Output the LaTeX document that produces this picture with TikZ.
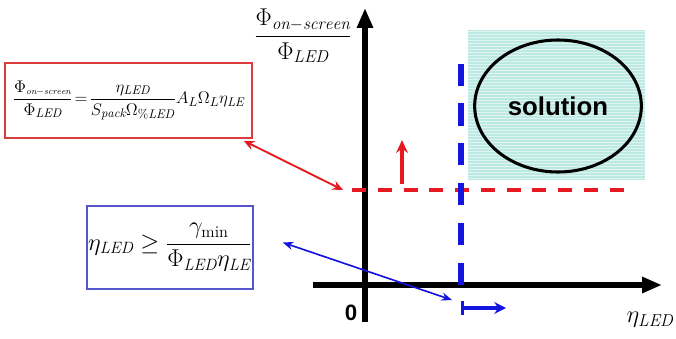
\documentclass[tikz,border=0pt]{standalone}
\usepackage{amsmath,amssymb}
\usepackage{fontspec}
\newfontfamily\arialfont{Liberation Sans}
\usetikzlibrary{arrows.meta,shapes,positioning}
\definecolor{limitred}{RGB}{230,25,35}
\definecolor{limitblue}{RGB}{20,20,225}
\definecolor{boxred}{RGB}{220,60,60}
\definecolor{boxblue}{RGB}{85,85,205}
\definecolor{zonefill}{RGB}{188,234,226}

\begin{document}
\begin{tikzpicture}[x=0.03cm, y=-0.03cm, >=Stealth,
  axis/.style={line width=4.3pt, -{Triangle[length=17pt,width=13pt]}},
  formbox/.style={line width=1.3pt, inner sep=1pt}]
  \useasboundingbox (0,0) rectangle (676,339);

  % Solution region
  \fill[zonefill] (468,30) rectangle (645,180);
  \foreach \y in {31.5,34.5,...,179} {
    \draw[white, line width=0.6pt, opacity=0.55] (468,\y) -- (645,\y);
  }
  \node[ellipse, draw, line width=2.6pt, minimum width=5cm, minimum height=3.96cm,
    font=\arialfont\bfseries\fontsize{22}{24}\selectfont] (sol) at (558,106) {solution};

  % Axes
  \draw[axis] (365,322) -- (365,8);
  \draw[axis] (313,285) -- (662,285);
  \node[font=\fontsize{21}{23}\selectfont] (ylabel) at (303,36)
    {$\dfrac{\Phi_{\scriptstyle\mathit{on}-\mathit{screen}}}{\Phi_{\mathit{LED}}}$};
  \node[font=\arialfont\bfseries\fontsize{19}{20}\selectfont] (zero) at (351,313) {0};
  \node[font=\fontsize{21}{23}\selectfont] (xlabel) at (650,320) {$\eta_{\mathit{LED}}$};

  % Limits
  \draw[limitred, line width=3.4pt, dash pattern=on 12pt off 10pt] (352,190) -- (630,190);
  \draw[limitblue, line width=4.4pt, dash pattern=on 19pt off 15pt] (461,285) -- (461,48);
  \draw[limitred, line width=2.6pt, -{Stealth[length=11pt,width=10pt]}] (402,184) -- (402,140);
  \draw[limitblue, line width=2.6pt, {Bar[width=12pt]}-{Stealth[length=10pt,width=10pt]}] (461,308) -- (506,308);

  % Formulas
  \node[formbox, draw=boxred, minimum width=7.41cm, minimum height=2.25cm,
    font=\fontsize{15.3}{17}\selectfont] (flux) at (128.5,100.5)
    {$\dfrac{\Phi_{\scriptscriptstyle\mathit{on}-\mathit{screen}}}{\Phi_{\mathit{LED}}}
      \!=\! \dfrac{\eta_{\mathit{LED}}}{S_{\mathit{pack}}\Omega_{\mathit{\%LED}}}
      A_L\Omega_L\eta_{\mathit{LE}}$};
  \node[formbox, draw=boxblue, minimum width=4.98cm, minimum height=2.49cm,
    font=\fontsize{20}{22}\selectfont] (eff) at (170,247.5)
    {$\eta_{\mathit{LED}} \ge \dfrac{\gamma_{\min}}{\Phi_{\mathit{LED}}\eta_{\mathit{LE}}}$};

  % Pointers
  \coordinate (redend) at (343,190);
  \coordinate (blueend) at (452,300);
  \draw[limitred, line width=1.6pt, {Stealth[length=9pt,width=8pt]}-{Stealth[length=9pt,width=8pt]}]
    ([shift={(-9,2)}]flux.south east) -- (redend);
  \draw[limitblue, line width=1.4pt, {Stealth[length=9pt,width=7pt]}-{Stealth[length=9pt,width=7pt]}]
    ([shift={(29,-5)}]eff.east) -- (blueend);
\end{tikzpicture}
\end{document}
